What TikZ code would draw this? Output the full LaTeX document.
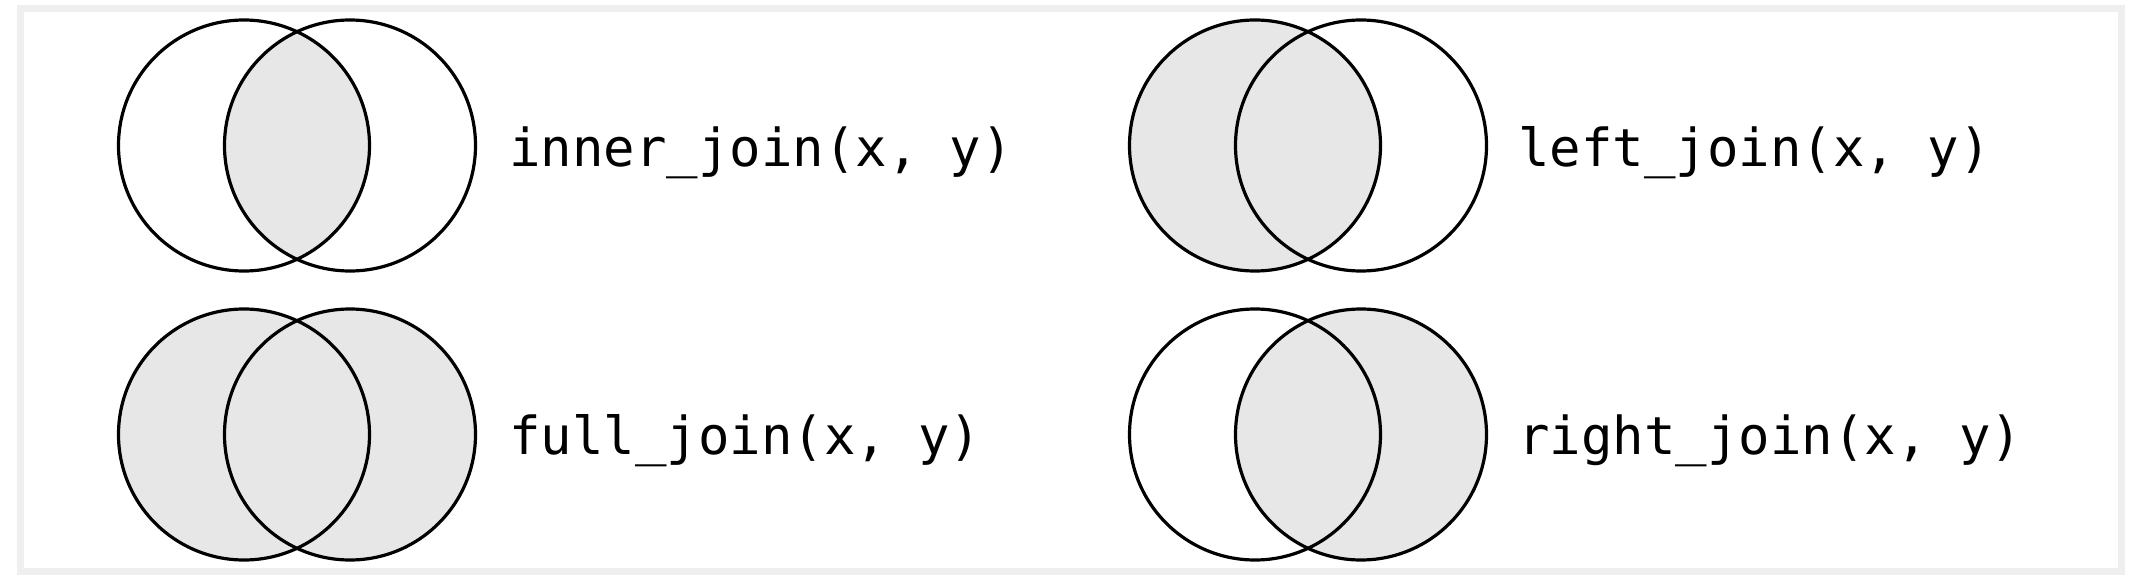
\documentclass[tikz,border=0pt]{standalone}
\usepackage{fontspec}
\setmonofont{DejaVu Sans Mono}
\newlength{\du}
\setlength{\du}{1pt}
\definecolor{framecolor}{rgb}{0.937, 0.937, 0.937}
\definecolor{vennfillcolor}{rgb}{0.906, 0.906, 0.906}
\tikzset{
  ring/.style={draw=black, line width=3.2\du},
  vennfill/.style={fill=vennfillcolor},
  joinlabel/.style={anchor=base west, inner sep=0pt, font=\fontsize{52.3}{60}\selectfont\ttfamily},
}

\begin{document}
\begin{tikzpicture}
\pgftransformxscale{1.000000}
\pgftransformyscale{-1.000000}
\useasboundingbox (0\du,0\du) rectangle (2150\du,586\du);
% frame
\draw[framecolor, line width=7\du] (20.5\du,8.5\du) rectangle (2121.5\du,571.5\du);
% circle centres
\coordinate (ix) at (244\du,145.5\du);
\coordinate (iy) at (350\du,145.5\du);
\coordinate (lx) at (1255\du,145.5\du);
\coordinate (ly) at (1361\du,145.5\du);
\coordinate (fx) at (244\du,434.5\du);
\coordinate (fy) at (350\du,434.5\du);
\coordinate (rx) at (1255\du,434.5\du);
\coordinate (ry) at (1361\du,434.5\du);
% inner_join
\begin{scope}
\clip (ix) circle (125.5\du);
\fill[vennfill] (iy) circle (125.5\du);
\end{scope}
\draw[ring] (ix) circle (125.5\du);
\draw[ring] (iy) circle (125.5\du);
\node[joinlabel] (inner) at (509\du,166\du){inner\_join(x, y)};
% left_join
\fill[vennfill] (lx) circle (125.5\du);
\draw[ring] (lx) circle (125.5\du);
\draw[ring] (ly) circle (125.5\du);
\node[joinlabel] (left) at (1518\du,166\du){left\_join(x, y)};
% full_join
\fill[vennfill] (fx) circle (125.5\du);
\fill[vennfill] (fy) circle (125.5\du);
\draw[ring] (fx) circle (125.5\du);
\draw[ring] (fy) circle (125.5\du);
\node[joinlabel] (full) at (509\du,454.5\du){full\_join(x, y)};
% right_join
\fill[vennfill] (ry) circle (125.5\du);
\draw[ring] (rx) circle (125.5\du);
\draw[ring] (ry) circle (125.5\du);
\node[joinlabel] (right) at (1518\du,454.5\du){right\_join(x, y)};
\end{tikzpicture}
\end{document}
